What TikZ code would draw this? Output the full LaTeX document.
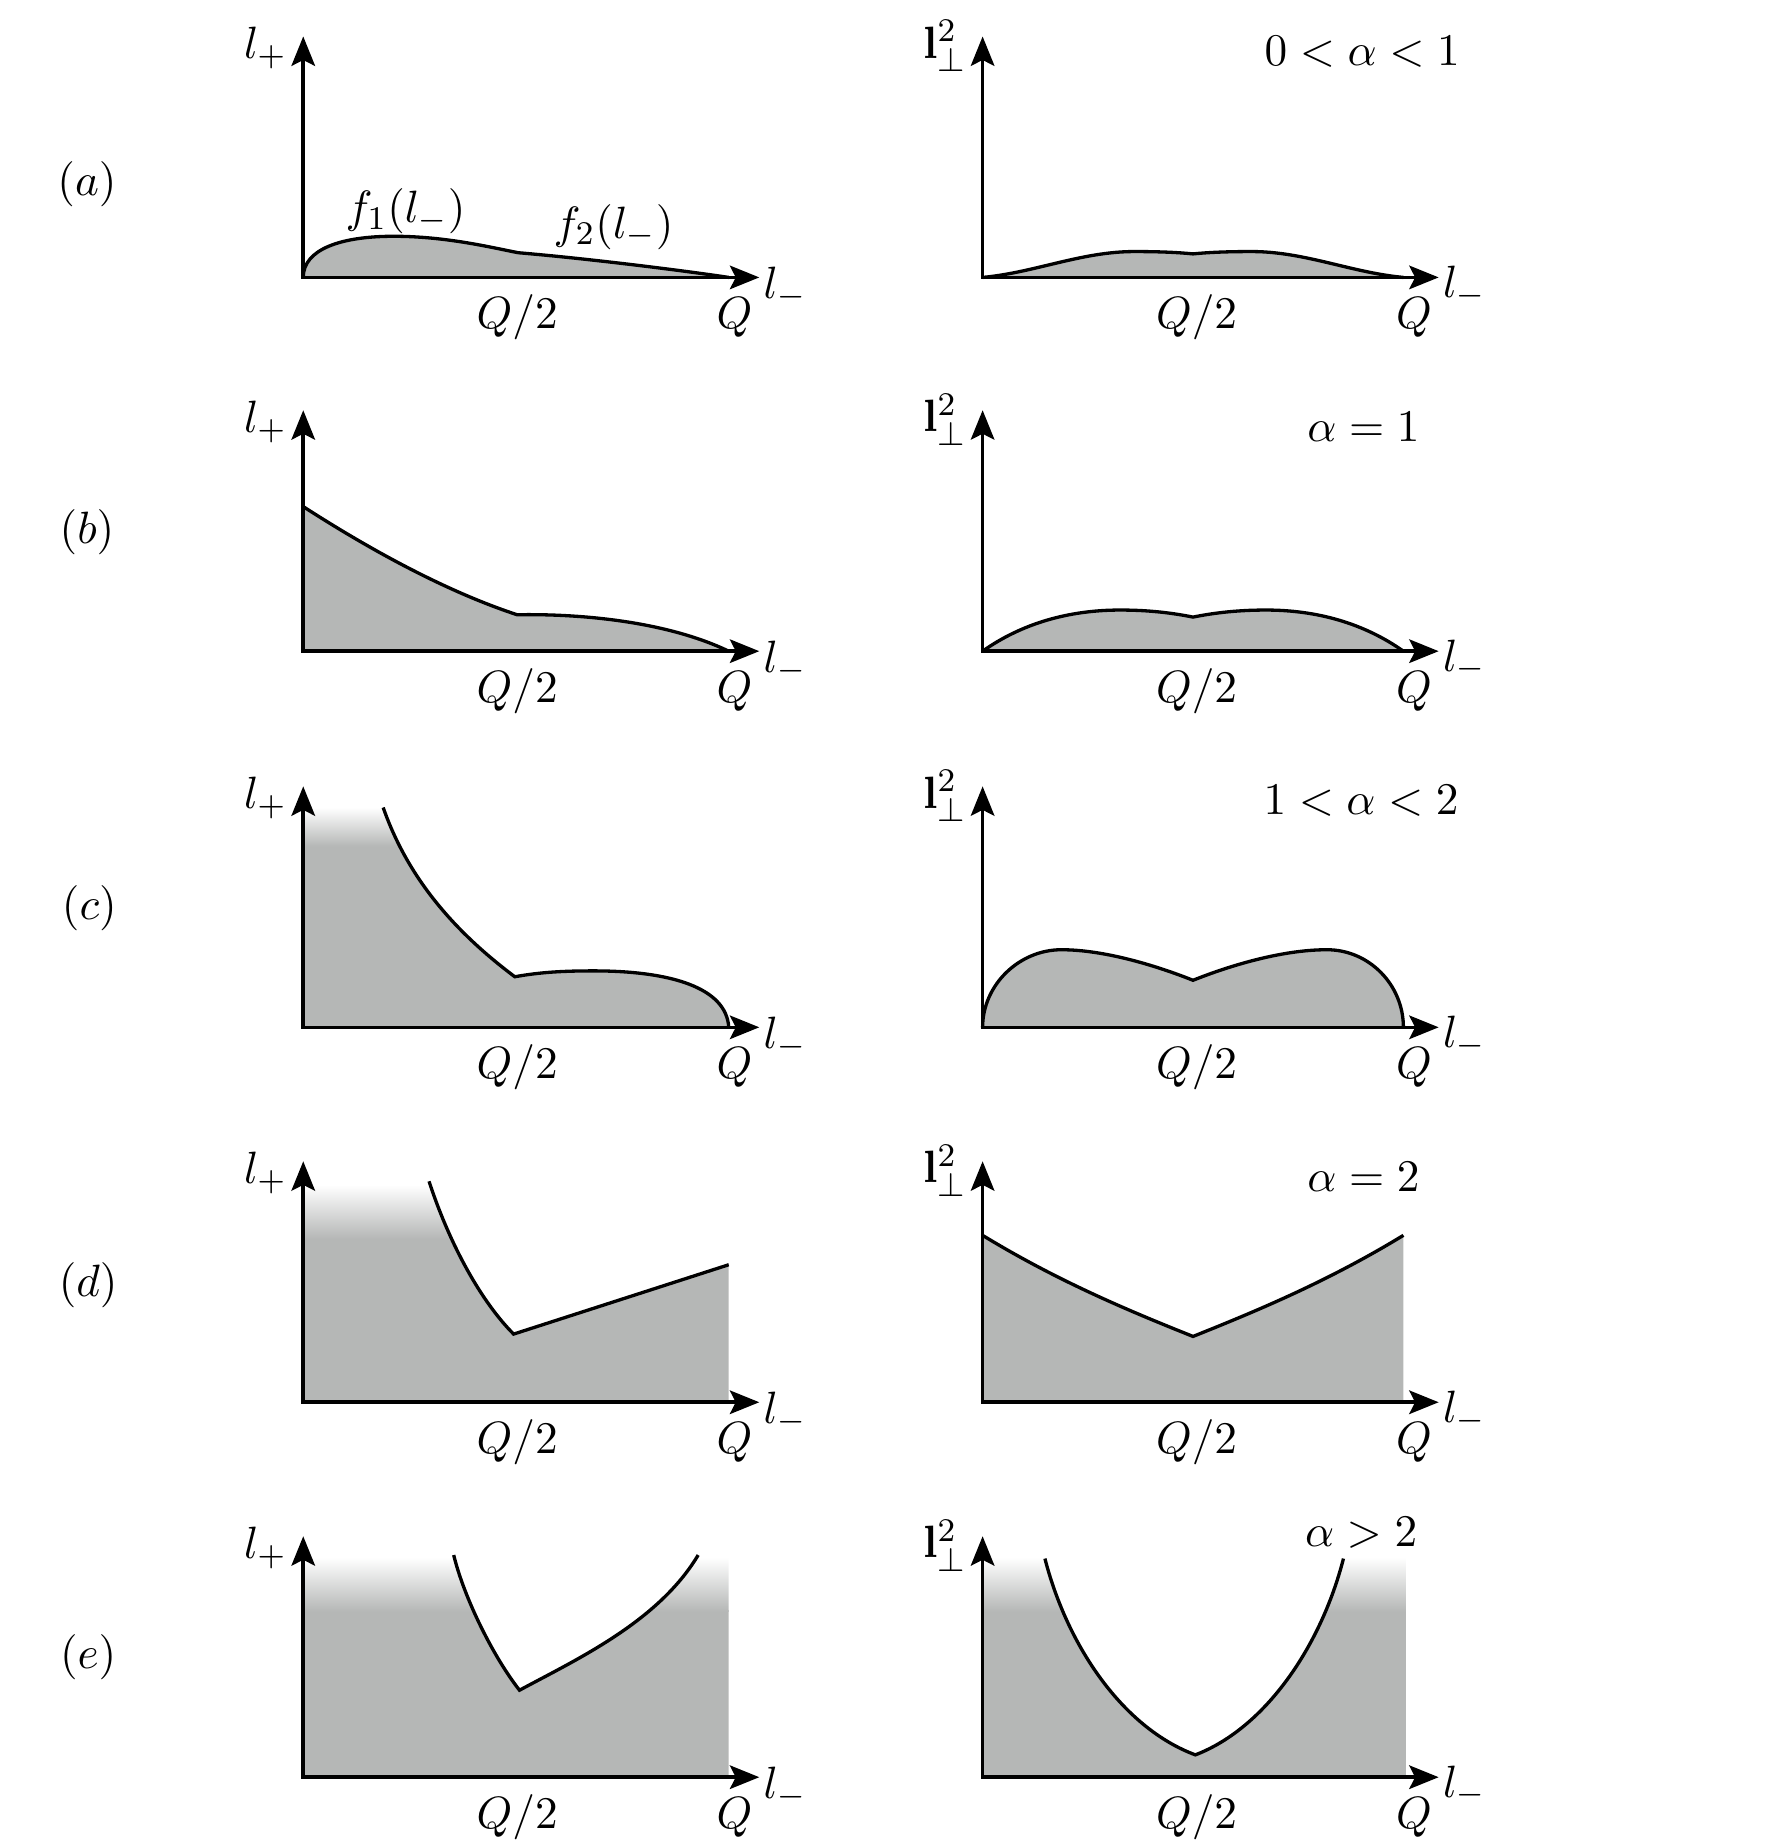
\documentclass[tikz,border=0pt]{standalone}
\usetikzlibrary{arrows.meta}
\definecolor{fillg}{RGB}{181,183,182}
\begin{document}
\begin{tikzpicture}[x=0.01cm,y=-0.01cm,
  every node/.style={font=\fontsize{11}{13}\selectfont, inner sep=0pt},
  tipst/.style={},
  axis/.style={line width=0.85pt, line join=miter, {Stealth[length=0.25cm,width=0.20cm,inset=0.05cm]}-{Stealth[length=0.25cm,width=0.20cm,inset=0.05cm]}},
  curve/.style={line width=0.8pt},
  region/.style={fill=fillg}]
\useasboundingbox (0,0) rectangle (1503,1568);

% ---------- (a) ----------
\fill[region] (258,236) .. controls (258,212) and (290,201) .. (335,201)
  .. controls (380,201) and (420,211) .. (441,215)
  .. controls (500,220) and (580,230) .. (620,236) -- cycle;
\draw[curve] (258,236) .. controls (258,212) and (290,201) .. (335,201)
  .. controls (380,201) and (420,211) .. (441,215)
  .. controls (500,220) and (580,230) .. (620,236);
\fill[region] (836,236) .. controls (880,232) and (920,214) .. (965,214)
  .. controls (990,214) and (1005,215) .. (1015,216)
  .. controls (1025,215) and (1040,214) .. (1065,214)
  .. controls (1110,214) and (1150,232) .. (1194,236) -- cycle;
\draw[curve] (836,236) .. controls (880,232) and (920,214) .. (965,214)
  .. controls (990,214) and (1005,215) .. (1015,216)
  .. controls (1025,215) and (1040,214) .. (1065,214)
  .. controls (1110,214) and (1150,232) .. (1194,236);

% ---------- (b) ----------
\fill[region] (258,554) -- (258,431) .. controls (300,458) and (370,500) .. (440,523)
  .. controls (500,522) and (570,530) .. (620,554) -- cycle;
\draw[curve] (258,431) .. controls (300,458) and (370,500) .. (440,523)
  .. controls (500,522) and (570,530) .. (620,554);
\fill[region] (836,554) .. controls (870,530) and (910,519) .. (953,519)
  .. controls (980,519) and (1000,522) .. (1015,525)
  .. controls (1030,522) and (1050,519) .. (1077,519)
  .. controls (1120,519) and (1160,530) .. (1194,554) -- cycle;
\draw[curve] (836,554) .. controls (870,530) and (910,519) .. (953,519)
  .. controls (980,519) and (1000,522) .. (1015,525)
  .. controls (1030,522) and (1050,519) .. (1077,519)
  .. controls (1120,519) and (1160,530) .. (1194,554);

% ---------- (c) ----------
\begin{scope}
\clip (258,874) -- (258,650) -- (326,650) -- (326,687)
  .. controls (348,750) and (390,795) .. (438,831)
  .. controls (460,827) and (480,826) .. (505,826)
  .. controls (570,826) and (618,840) .. (620,874) -- cycle;
\fill[fillg] (250,719) rectangle (630,880);
\shade[top color=white,bottom color=fillg] (250,687) rectangle (630,720);
\end{scope}
\draw[curve] (326,687) .. controls (348,750) and (390,795) .. (438,831)
  .. controls (460,827) and (480,826) .. (505,826)
  .. controls (570,826) and (618,840) .. (620,874);
\fill[region] (836,874) .. controls (836,838) and (867,808) .. (903,808)
  .. controls (940,808) and (985,822) .. (1015,834)
  .. controls (1045,822) and (1090,808) .. (1129,808)
  .. controls (1165,808) and (1194,838) .. (1194,874) -- cycle;
\draw[curve] (836,874) .. controls (836,838) and (867,808) .. (903,808)
  .. controls (940,808) and (985,822) .. (1015,834)
  .. controls (1045,822) and (1090,808) .. (1129,808)
  .. controls (1165,808) and (1194,838) .. (1194,874);

% ---------- (d) ----------
\begin{scope}
\clip (258,1193) -- (258,980) -- (365,980) -- (365,1005)
  .. controls (383,1060) and (410,1108) .. (437,1135)
  -- (620,1076) -- (620,1193) -- cycle;
\fill[fillg] (250,1053) rectangle (630,1200);
\shade[top color=white,bottom color=fillg] (250,1008) rectangle (630,1054);
\end{scope}
\draw[curve] (365,1005) .. controls (383,1060) and (410,1108) .. (437,1135) -- (620,1076);
\fill[region] (836,1193) -- (836,1051) .. controls (900,1090) and (960,1115) .. (1015,1137)
  .. controls (1070,1115) and (1130,1090) .. (1194,1051) -- (1194,1193) -- cycle;
\draw[curve] (836,1051) .. controls (900,1090) and (960,1115) .. (1015,1137)
  .. controls (1070,1115) and (1130,1090) .. (1194,1051);

% ---------- (e) ----------
\begin{scope}
\clip (258,1512) -- (258,1300) -- (386,1300) -- (386,1323)
  .. controls (395,1360) and (420,1410) .. (442,1438)
  .. controls (490,1412) and (560,1380) .. (594,1323)
  -- (594,1300) -- (620,1300) -- (620,1512) -- cycle;
\fill[fillg] (250,1370) rectangle (630,1520);
\shade[top color=white,bottom color=fillg] (250,1325) rectangle (630,1371);
\end{scope}
\draw[curve] (386,1323) .. controls (395,1360) and (420,1410) .. (442,1438)
  .. controls (490,1412) and (560,1380) .. (594,1323);
\begin{scope}
\clip (836,1512) -- (836,1300) -- (889,1300) -- (889,1326)
  .. controls (908,1400) and (955,1470) .. (1017,1493)
  .. controls (1077,1470) and (1124,1400) .. (1143,1326)
  -- (1143,1300) -- (1196,1300) -- (1196,1512) -- cycle;
\fill[fillg] (830,1370) rectangle (1200,1520);
\shade[top color=white,bottom color=fillg] (830,1325) rectangle (1200,1371);
\end{scope}
\draw[curve] (889,1326) .. controls (908,1400) and (955,1470) .. (1017,1493)
  .. controls (1077,1470) and (1124,1400) .. (1143,1326);

% ---------- axes and labels ----------
\foreach \r/\yb in {a/236,b/554,c/874,d/1193,e/1512}{
  \coordinate (oL\r) at (258,\yb);
  \coordinate (tL\r) at (258,\yb-205);
  \coordinate (eL\r) at (646,\yb);
  \coordinate (oR\r) at (836,\yb);
  \coordinate (tR\r) at (836,\yb-205);
  \coordinate (eR\r) at (1224,\yb);
  \draw[axis] (tL\r) -- (oL\r) -- (eL\r);
  \draw[axis] (tR\r) -- (oR\r) -- (eR\r);
  \node (lp\r) at (226,\yb-195) {$l_+$};
  \node (lt\r) at (804,\yb-197) {$\mathbf{l}_\perp^2$};
  \node (lmL\r) at (668,\yb+9) {$l_-$};
  \node (lmR\r) at (1246,\yb+8) {$l_-$};
  \node (hL\r) at (440,\yb+34) {$Q/2$};
  \node (qL\r) at (625,\yb+34) {$Q$};
  \node (hR\r) at (1018,\yb+34) {$Q/2$};
  \node (qR\r) at (1203,\yb+34) {$Q$};
}

\node (rowa) at (74,157) {$(a)$};
\node (rowb) at (74,453) {$(b)$};
\node (rowc) at (76,773) {$(c)$};
\node (rowd) at (75,1093) {$(d)$};
\node (rowe) at (75,1410) {$(e)$};

\node (fone) at (345,180) {$f_1(l_-)$};
\node (ftwo) at (522,193) {$f_2(l_-)$};

\node (alpa) at (1159,44) {$0<\alpha<1$};
\node (alpb) at (1160,363) {$\alpha=1$};
\node (alpc) at (1158,681) {$1<\alpha<2$};
\node (alpd) at (1160,1001) {$\alpha=2$};
\node (alpe) at (1158,1304) {$\alpha>2$};
\end{tikzpicture}
\end{document}
